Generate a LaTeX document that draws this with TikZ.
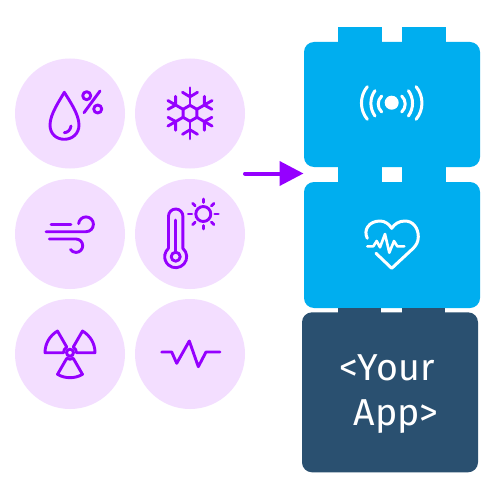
\documentclass[tikz,border=0pt]{standalone}
\usepackage{fontspec}
\setmainfont{Fira Sans}
\usetikzlibrary{arrows.meta}
\definecolor{bubble}{HTML}{F3DEFF}
\definecolor{violet}{HTML}{9500FF}
\definecolor{skyb}{HTML}{00AEEF}
\definecolor{navyb}{HTML}{2A5070}
\tikzset{
 bubble/.style={circle,fill=bubble,minimum size=110pt,inner sep=0pt},
 icon/.style={draw=violet,line width=2.9pt,line cap=round,line join=round},
 whiteicon/.style={draw=white,line width=3pt,line cap=round,line join=round},
 block/.style={rounded corners=10pt,inner sep=0pt,minimum width=176pt},
 tab/.style={inner sep=0pt,minimum width=43.5pt},
 apptext/.style={text=white,font=\fontsize{37.5}{37.5}\selectfont,inner sep=0pt,anchor=base west},
}
\begin{document}
\begin{tikzpicture}[x=1pt,y=1pt,yscale=-1]
\useasboundingbox (0,0) rectangle (500,500);
\fill[white] (0,0) rectangle (500,500);
% bubbles
\node[bubble] (c1) at (70,113.5) {};
\node[bubble] (c2) at (190,113.5) {};
\node[bubble] (c3) at (70,234) {};
\node[bubble] (c4) at (190,234) {};
\node[bubble] (c5) at (70,354) {};
\node[bubble] (c6) at (190,354) {};
% blocks
\node[tab,fill=skyb,minimum height=15pt] (t1) at (359.8,34.5) {};
\node[tab,fill=skyb,minimum height=15pt] (t2) at (424,34.5) {};
\node[block,fill=skyb,minimum height=125pt] (b1) at (392,104.5) {};
\node[tab,fill=skyb,minimum height=16pt] (t3) at (359.8,174.5) {};
\node[tab,fill=skyb,minimum height=16pt] (t4) at (424,174.5) {};
\node[block,fill=skyb,minimum height=126pt] (b2) at (392,245) {};
\node[tab,fill=navyb,minimum height=5pt] (t5) at (359.3,310) {};
\node[tab,fill=navyb,minimum height=5pt] (t6) at (423.3,310) {};
\node[block,fill=navyb,minimum height=160pt] (b3) at (390,392.3) {};
\node[apptext] (l1) at (339,380) {<Your};
\node[apptext] (l2) at (353.5,425) {App>};
% arrow
\coordinate (astart) at (245,173.5);
\coordinate (aend) at (303.5,173.5);
\draw[draw=violet,line width=4pt,line cap=round,-{Triangle[length=24pt,width=24pt]}] (astart) -- (aend);
% drop
\draw[icon] (64.3,92.3) .. controls (60,100) and (50,114) .. (50,125) .. controls (50,133.5) and (56,139.3) .. (64.3,139.3) .. controls (72.5,139.3) and (79,133.5) .. (79,125) .. controls (79,114) and (69,100) .. (64.3,92.3) -- cycle;
\draw[icon] (64.3,132.7) .. controls (67.5,132.7) and (70.5,130) .. (71,126);
\draw[icon] (86.7,95.7) circle[radius=4];
\draw[icon] (97.7,109) circle[radius=4];
\draw[icon] (100,91) -- (84,112.7);
% snowflake
\begin{scope}[shift={(190,113.3)}]
\draw[icon] (90:8) -- (150:8) -- (210:8) -- (270:8) -- (330:8) -- (30:8) -- cycle;
\foreach \a in {0,60,...,300}{
 \begin{scope}[rotate=\a]
 \draw[icon] (0,-8) -- (0,-25.5);
 \draw[icon] (-7.5,-21) -- (0,-16.5) -- (7.5,-21);
 \end{scope}}
\end{scope}
% wind
\draw[icon] (51,224.7) -- (71,224.7);
\draw[icon] (46,231.7) -- (86,231.7) arc[start angle=90,end angle=-175,radius=7.4];
\draw[icon] (49.3,239) -- (76,239) arc[start angle=-90,end angle=145,radius=6.7];
% thermometer
\draw[icon] (168.5,248.4) -- (168.5,216.2) arc[start angle=180,end angle=360,radius=7.2] -- (182.9,248.4) arc[start angle=-49,end angle=229,radius=11] -- cycle;
\draw[icon] (175.7,256.7) circle[radius=4.5];
\draw[icon] (175.7,220) -- (175.7,252);
\draw[icon] (203.3,214) circle[radius=7.5];
\begin{scope}[shift={(203.3,214)}]
\foreach \a in {0,45,...,315}{\draw[icon] (\a:11.5) -- (\a:15);}
\end{scope}
% radiation
\begin{scope}[shift={(70,352.7)}]
\draw[icon] (0,0) circle[radius=3.5];
\foreach \a in {180,300,60}{
 \draw[icon] (\a:6.5) -- (\a:25) arc[start angle=\a,end angle=\a+60,radius=25] -- ({\a+60}:6.5) arc[start angle=\a+60,end angle=\a,radius=6.5] -- cycle;}
\end{scope}
% pulse
\draw[icon] (161.7,352) -- (171.7,352) -- (176.7,363.3) -- (189.3,341) -- (198.3,366.7) -- (206,352) -- (220,352);
% signal
\fill[white] (391.7,102.7) circle[radius=7];
\foreach \s/\o in {1/0,-1/783.4}{
\begin{scope}[shift={(\o,0)},xscale=\s]
\draw[whiteicon] (367.3,86.7) .. controls (359.5,96) and (359.5,110) .. (367.3,119.3);
\draw[whiteicon] (375,90.7) .. controls (369.5,98) and (369.5,108.5) .. (375,116);
\draw[whiteicon] (381.7,96) .. controls (377,100.5) and (377,107.5) .. (381.7,112);
\end{scope}}
% heart
\draw[whiteicon] (367.3,238.3) .. controls (363,230) and (369,221) .. (380,221) .. controls (385,221) and (389,224) .. (391.7,228.3) .. controls (394.5,224) and (399,221) .. (405,221) .. controls (413,221) and (418.3,228) .. (418.3,236.7) .. controls (418.3,242) and (416,245.5) .. (413,248.5) -- (391.7,268.3) -- (376,253.3);
\draw[whiteicon,line width=2.6pt] (367.3,246.3) -- (373.3,246.3) -- (376.7,241) -- (380,247.3) -- (385,234) -- (389.3,252.7) -- (394,241) -- (397.3,246.3) -- (404.3,246.3);
\end{tikzpicture}
\end{document}
